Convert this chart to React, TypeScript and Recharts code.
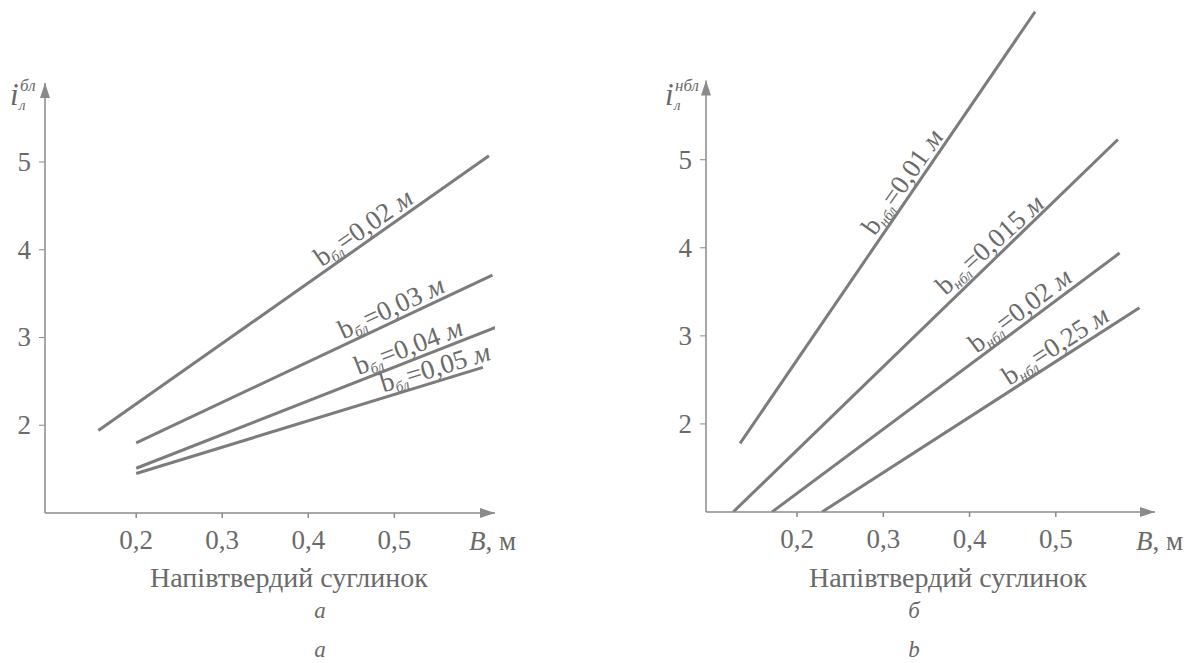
import React from 'react';
import { LineChart, Line, XAxis, YAxis, ReferenceLine, ReferenceDot } from 'recharts';

// horizontal axis ticks (B, м) and vertical ticks (i)
const xTicks = [0.2, 0.3, 0.4, 0.5];
const yTicks = [2, 3, 4, 5];

// chart a: i_л^бл vs B
const blLine002 = [{ B: 0.156, i: 1.94 }, { B: 0.61, i: 5.07 }];
const blLine003 = [{ B: 0.2, i: 1.8 }, { B: 0.614, i: 3.71 }];
const blLine004 = [{ B: 0.2, i: 1.51 }, { B: 0.619, i: 3.12 }];
const blLine005 = [{ B: 0.2, i: 1.45 }, { B: 0.603, i: 2.66 }];

// chart b: i_л^нбл vs B
const nblLine001 = [{ B: 0.134, i: 1.78 }, { B: 0.476, i: 6.68 }];
const nblLine0015 = [{ B: 0.126, i: 1.0 }, { B: 0.572, i: 5.23 }];
const nblLine002 = [{ B: 0.171, i: 1.0 }, { B: 0.574, i: 3.94 }];
const nblLine025 = [{ B: 0.229, i: 1.0 }, { B: 0.597, i: 3.32 }];

const seriesA = [
  { id: 'a1', data: blLine002, value: '0,02', at: 0.473, angle: -35 },
  { id: 'a2', data: blLine003, value: '0,03', at: 0.503, angle: -25 },
  { id: 'a3', data: blLine004, value: '0,04', at: 0.522, angle: -21 },
  { id: 'a4', data: blLine005, value: '0,05', at: 0.552, angle: -17 },
];

const seriesB = [
  { id: 'b1', data: nblLine001, value: '0,01', at: 0.335, angle: -55 },
  { id: 'b2', data: nblLine0015, value: '0,015', at: 0.434, angle: -42 },
  { id: 'b3', data: nblLine002, value: '0,02', at: 0.468, angle: -37 },
  { id: 'b4', data: nblLine025, value: '0,25', at: 0.508, angle: -33 },
];

const FONT = 'Liberation Serif';
const TEXT = '#6a6a6a';
const LINE = '#7c7c7c';
const AXIS = '#8a8a8a';

const X_DOMAIN_A: [number, number] = [0.094, 0.617];
const Y_DOMAIN_A: [number, number] = [1, 5.9];
const X_DOMAIN_B: [number, number] = [0.0945, 0.615];
const Y_DOMAIN_B: [number, number] = [1, 6.7];

const fmt = (v: number) => String(v).replace('.', ',');

const interp = (pts: { B: number; i: number }[], B: number) => {
  const [p, q] = pts;
  return p.i + ((q.i - p.i) * (B - p.B)) / (q.B - p.B);
};

function LineLabel({ cx, cy, angle, sub, value }: any) {
  return (
    <g transform={`translate(${cx},${cy}) rotate(${angle})`}>
      <text x={0} y={-5} textAnchor="middle" fontFamily={FONT} fontSize={27} fill={TEXT}>
        b
        <tspan fontSize={15} fontStyle="italic" dy={4}>
          {sub}
        </tspan>
        <tspan dy={-4}>={value} </tspan>
        <tspan fontStyle="italic">м</tspan>
      </text>
    </g>
  );
}

const arrowRight = (p: any) => (
  <polygon points={`${p.cx},${p.cy} ${p.cx - 15},${p.cy - 5} ${p.cx - 15},${p.cy + 5}`} fill={AXIS} />
);
const arrowUp = (p: any) => (
  <polygon points={`${p.cx},${p.cy} ${p.cx - 5},${p.cy + 15} ${p.cx + 5},${p.cy + 15}`} fill={AXIS} />
);

const XTick = ({ x, y, payload }: any) => (
  <text x={x} y={y + 23} textAnchor="middle" fontFamily={FONT} fontSize={27} fill={TEXT}>
    {fmt(payload.value)}
  </text>
);
const YTick = ({ x, y, payload }: any) => (
  <text x={x} y={y + 9} textAnchor="end" fontFamily={FONT} fontSize={27} fill={TEXT}>
    {payload.value}
  </text>
);

function Panel({ series, sub, xDomain, yDomain, yAxisWidth, margin }: any) {
  return (
    <LineChart width={1185} height={663} margin={margin}>
      <XAxis
        type="number"
        dataKey="B"
        domain={xDomain}
        ticks={xTicks}
        allowDataOverflow
        height={40}
        stroke={AXIS}
        strokeWidth={1.5}
        tickSize={5}
        tickMargin={8}
        tick={<XTick />}
      />
      <YAxis
        type="number"
        domain={yDomain}
        ticks={yTicks}
        allowDataOverflow
        width={yAxisWidth}
        axisLine={false}
        stroke={AXIS}
        tickSize={6}
        tickMargin={8}
        tick={<YTick />}
      />
      <ReferenceLine
        segment={[
          { x: xDomain[0], y: yDomain[0] },
          { x: xDomain[0], y: 5.9 },
        ]}
        stroke={AXIS}
        strokeWidth={1.5}
        ifOverflow="visible"
      />
      <ReferenceDot x={xDomain[1]} y={yDomain[0]} r={0} ifOverflow="visible" shape={arrowRight} />
      <ReferenceDot x={xDomain[0]} y={5.9} r={0} ifOverflow="visible" shape={arrowUp} />
      {series.map((s: any) => (
        <Line
          key={s.id}
          data={s.data}
          dataKey="i"
          type="linear"
          stroke={LINE}
          strokeWidth={3}
          dot={false}
          activeDot={false}
          isAnimationActive={false}
        />
      ))}
      {series.map((s: any) => (
        <ReferenceDot
          key={s.id + '-lbl'}
          x={s.at}
          y={interp(s.data, s.at)}
          r={0}
          ifOverflow="visible"
          shape={(p: any) => (
            <LineLabel cx={p.cx} cy={p.cy} angle={s.angle} sub={sub} value={s.value} />
          )}
        />
      ))}
    </LineChart>
  );
}

export default function App() {
  return (
    <div style={{ position: 'absolute', left: 0, top: 0, width: 1185, height: 663, background: '#fff' }}>
      <div style={{ position: 'absolute', left: 0, top: 0 }}>
        <Panel
          series={seriesA}
          sub="бл"
          xDomain={X_DOMAIN_A}
          yDomain={Y_DOMAIN_A}
          yAxisWidth={45}
          margin={{ top: 83, right: 690, bottom: 110, left: 0 }}
        />
      </div>
      <div style={{ position: 'absolute', left: 0, top: 0 }}>
        <Panel
          series={seriesB}
          sub="нбл"
          xDomain={X_DOMAIN_B}
          yDomain={Y_DOMAIN_B}
          yAxisWidth={706}
          margin={{ top: 10, right: 30, bottom: 111, left: 0 }}
        />
      </div>
      <svg
        width={1185}
        height={663}
        style={{ position: 'absolute', left: 0, top: 0, pointerEvents: 'none' }}
        fill={TEXT}
      >
        {/* y-axis names */}
        <text x={10} y={105} fontFamily={FONT} fontSize={31} fontStyle="italic">i</text>
        <text x={20} y={91} fontFamily={FONT} fontSize={17} fontStyle="italic">бл</text>
        <text x={19} y={110} fontFamily={FONT} fontSize={15} fontStyle="italic">л</text>
        <text x={665} y={105} fontFamily={FONT} fontSize={31} fontStyle="italic">i</text>
        <text x={675} y={91} fontFamily={FONT} fontSize={17} fontStyle="italic">нбл</text>
        <text x={674} y={110} fontFamily={FONT} fontSize={15} fontStyle="italic">л</text>
        {/* x-axis names */}
        <text x={469} y={550} fontFamily={FONT} fontSize={27}>
          <tspan fontStyle="italic">B</tspan>, м
        </text>
        <text x={1136} y={550} fontFamily={FONT} fontSize={27}>
          <tspan fontStyle="italic">B</tspan>, м
        </text>
        {/* titles and captions */}
        <text x={289} y={587} fontFamily={FONT} fontSize={28} textAnchor="middle">Напівтвердий суглинок</text>
        <text x={948} y={587} fontFamily={FONT} fontSize={28} textAnchor="middle">Напівтвердий суглинок</text>
        <text x={320} y={618} fontFamily={FONT} fontSize={23} fontStyle="italic" textAnchor="middle">a</text>
        <text x={320} y={657} fontFamily={FONT} fontSize={23} fontStyle="italic" textAnchor="middle">a</text>
        <text x={914} y={618} fontFamily={FONT} fontSize={23} fontStyle="italic" textAnchor="middle">б</text>
        <text x={914} y={657} fontFamily={FONT} fontSize={23} fontStyle="italic" textAnchor="middle">b</text>
      </svg>
    </div>
  );
}
